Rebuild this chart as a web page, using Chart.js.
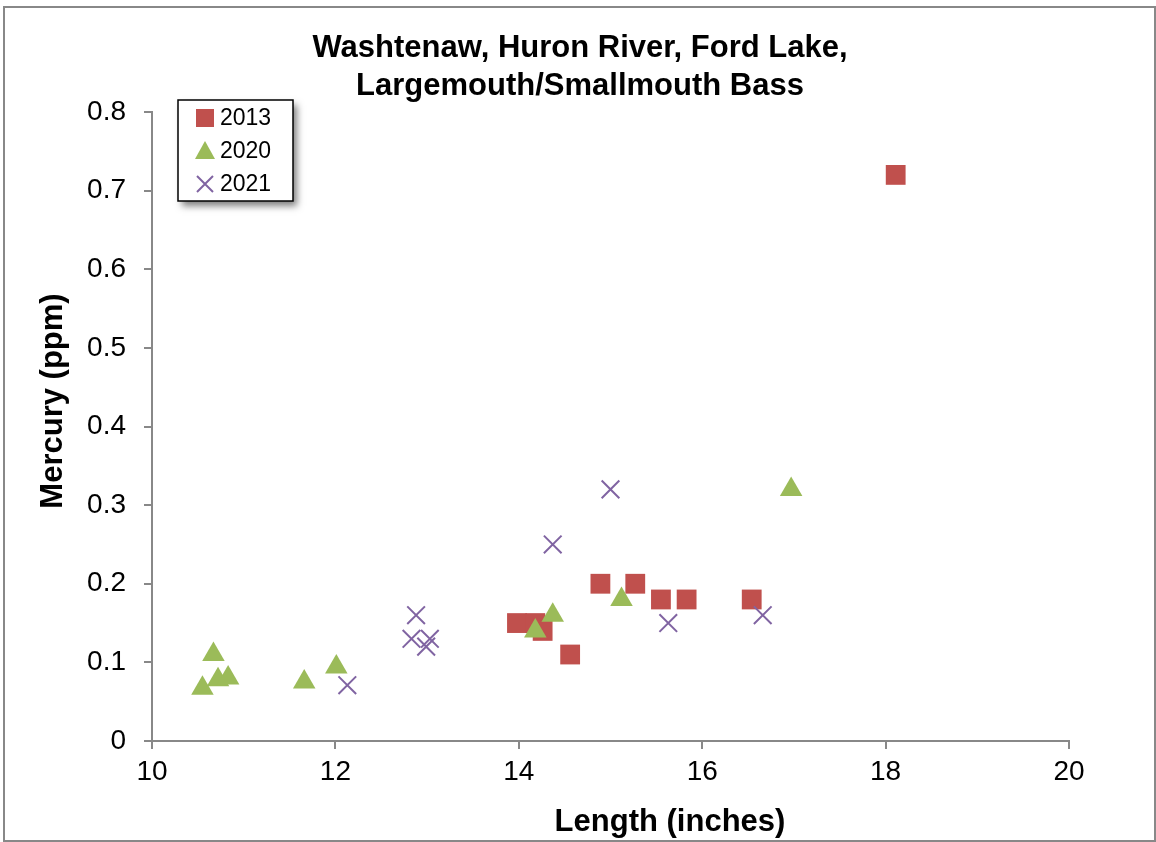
<!DOCTYPE html>
<html>
<head>
<meta charset="utf-8">
<title>Ford Lake Bass Mercury</title>
<script src="https://cdn.jsdelivr.net/npm/chart.js@4.4.0/dist/chart.umd.min.js"></script>
<style>
body { margin: 0; background: #fff; }
canvas { display: block; }
</style>
</head>
<body>
<canvas id="scatter" width="1156" height="842"></canvas>
<script>
// values
var len2013 = [ 13.98, 14.18, 14.26, 14.56, 14.89, 15.27, 15.55, 15.83, 16.54, 18.11 ];
var hg2013 = [ 0.15, 0.15, 0.14, 0.11, 0.20, 0.20, 0.18, 0.18, 0.18, 0.72 ];
var len2020 = [ 10.55, 10.67, 10.72, 10.83, 11.66, 12.01, 14.18, 14.37, 15.12, 16.97 ];
var hg2020 = [ 0.067, 0.11, 0.078, 0.080, 0.075, 0.094, 0.14, 0.16, 0.18, 0.32 ];
var len2021 = [ 12.13, 12.83, 12.88, 12.99, 13.03, 14.37, 15.00, 15.63, 16.66 ];
var hg2021 = [ 0.071, 0.13, 0.16, 0.12, 0.13, 0.25, 0.32, 0.15, 0.16 ];
var seriesNames = [ "2013", "2020", "2021" ];
var titleLines = [ "Washtenaw, Huron River, Ford Lake,", "Largemouth/Smallmouth Bass" ];
var xTicks = [ 10, 12, 14, 16, 18, 20 ];
var yTicks = [ 0, 0.1, 0.2, 0.3, 0.4, 0.5, 0.6, 0.7, 0.8 ];

var FONT = "'Liberation Sans', Arial, sans-serif";

function pairs(xs, ys) {
	return xs.map(function(x, i) {
		return { x : x, y : ys[i] };
	});
}

var chartDecor = {
	id : 'chartDecor',
	beforeDraw : function(chart) {
		var c = chart.ctx;
		c.save();
		c.fillStyle = '#fff';
		c.fillRect(0, 0, chart.width, chart.height);
		c.strokeStyle = '#888';
		c.lineWidth = 2;
		c.strokeRect(4, 7, 1151, 834);
		c.restore();
	},
	afterDraw : function(chart) {
		var c = chart.ctx;
		c.save();
		c.fillStyle = '#000';
		c.textAlign = 'center';
		c.textBaseline = 'middle';
		// chart title, centred on the whole picture like the original
		c.font = "bold 31px " + FONT;
		c.fillText(titleLines[0], 580, 48);
		c.fillText(titleLines[1], 580, 86);
		// axis titles
		c.fillText("Length (inches)", 670, 822);
		c.translate(53, 401);
		c.rotate(-Math.PI / 2);
		c.fillText("Mercury (ppm)", 0, 0);
		c.restore();

		// legend box with shadow
		c.save();
		c.shadowColor = 'rgba(0,0,0,0.5)';
		c.shadowBlur = 7;
		c.shadowOffsetX = 4;
		c.shadowOffsetY = 5;
		c.fillStyle = '#fff';
		c.fillRect(178, 100, 115, 101);
		c.restore();
		c.save();
		c.strokeStyle = '#000';
		c.lineWidth = 1.5;
		c.strokeRect(178, 100, 115, 101);
		var rows = [ 118, 151, 184 ];
		var ds = chart.data.datasets;
		// square
		c.fillStyle = ds[0].backgroundColor;
		c.fillRect(196, rows[0] - 9, 18, 18);
		// triangle
		c.fillStyle = ds[1].backgroundColor;
		c.beginPath();
		c.moveTo(205, rows[1] - 10);
		c.lineTo(215, rows[1] + 8);
		c.lineTo(195, rows[1] + 8);
		c.closePath();
		c.fill();
		// cross
		c.strokeStyle = ds[2].borderColor;
		c.lineWidth = 2;
		c.beginPath();
		c.moveTo(197, rows[2] - 8);
		c.lineTo(213, rows[2] + 8);
		c.moveTo(213, rows[2] - 8);
		c.lineTo(197, rows[2] + 8);
		c.stroke();
		c.fillStyle = '#000';
		c.font = "23px " + FONT;
		c.textAlign = 'left';
		c.textBaseline = 'middle';
		for (var i = 0; i < seriesNames.length; i++) {
			c.fillText(seriesNames[i], 220, rows[i] + 1);
		}
		c.restore();
	}
};

var ctx = document.getElementById("scatter").getContext('2d');
var fishChart = new Chart(ctx, {
	type : 'scatter',
	data : {
		datasets : [ {
			label : seriesNames[0],
			data : pairs(len2013, hg2013),
			pointStyle : 'rect',
			pointRadius : 14,
			backgroundColor : "#C0504D",
			borderColor : "#C0504D",
			borderWidth : 0,
			order : 3
		}, {
			label : seriesNames[1],
			data : pairs(len2020, hg2020),
			pointStyle : 'triangle',
			pointRadius : 13,
			backgroundColor : "#9BBB59",
			borderColor : "#9BBB59",
			borderWidth : 0,
			order : 2
		}, {
			label : seriesNames[2],
			data : pairs(len2021, hg2021),
			pointStyle : 'crossRot',
			pointRadius : 12.5,
			backgroundColor : "#8064A2",
			borderColor : "#8064A2",
			borderWidth : 2,
			order : 1
		} ]
	},
	options : {
		responsive : false,
		animation : false,
		layout : {
			// room for the title (drawn by chartDecor) and the right margin
			padding : { left : 0, right : 87, top : 112, bottom : 0 }
		},
		plugins : {
			legend : { display : false },
			tooltip : { enabled : false },
			title : { display : false }
		},
		scales : {
			x : {
				type : 'linear',
				min : xTicks[0],
				max : xTicks[xTicks.length - 1],
				afterBuildTicks : function(scale) {
					scale.ticks = xTicks.map(function(v) { return { value : v }; });
				},
				afterFit : function(scale) {
					scale.height = 101;
				},
				grid : {
					drawOnChartArea : false,
					drawTicks : true,
					tickLength : 8,
					color : '#888',
					lineWidth : 2
				},
				border : { color : '#888', width : 2 },
				ticks : {
					color : '#000',
					padding : 6,
					maxRotation : 0,
					font : { family : FONT, size : 28 }
				}
			},
			y : {
				type : 'linear',
				min : yTicks[0],
				max : yTicks[yTicks.length - 1],
				afterBuildTicks : function(scale) {
					scale.ticks = yTicks.map(function(v) { return { value : v }; });
				},
				afterFit : function(scale) {
					scale.width = 152;
				},
				grid : {
					drawOnChartArea : false,
					drawTicks : true,
					tickLength : 8,
					color : '#888',
					lineWidth : 2
				},
				border : { color : '#888', width : 2 },
				ticks : {
					color : '#000',
					padding : 18,
					font : { family : FONT, size : 28 },
					callback : function(v) { return String(+v.toFixed(1)); }
				}
			}
		}
	},
	plugins : [ chartDecor ]
});
</script>
</body>
</html>
